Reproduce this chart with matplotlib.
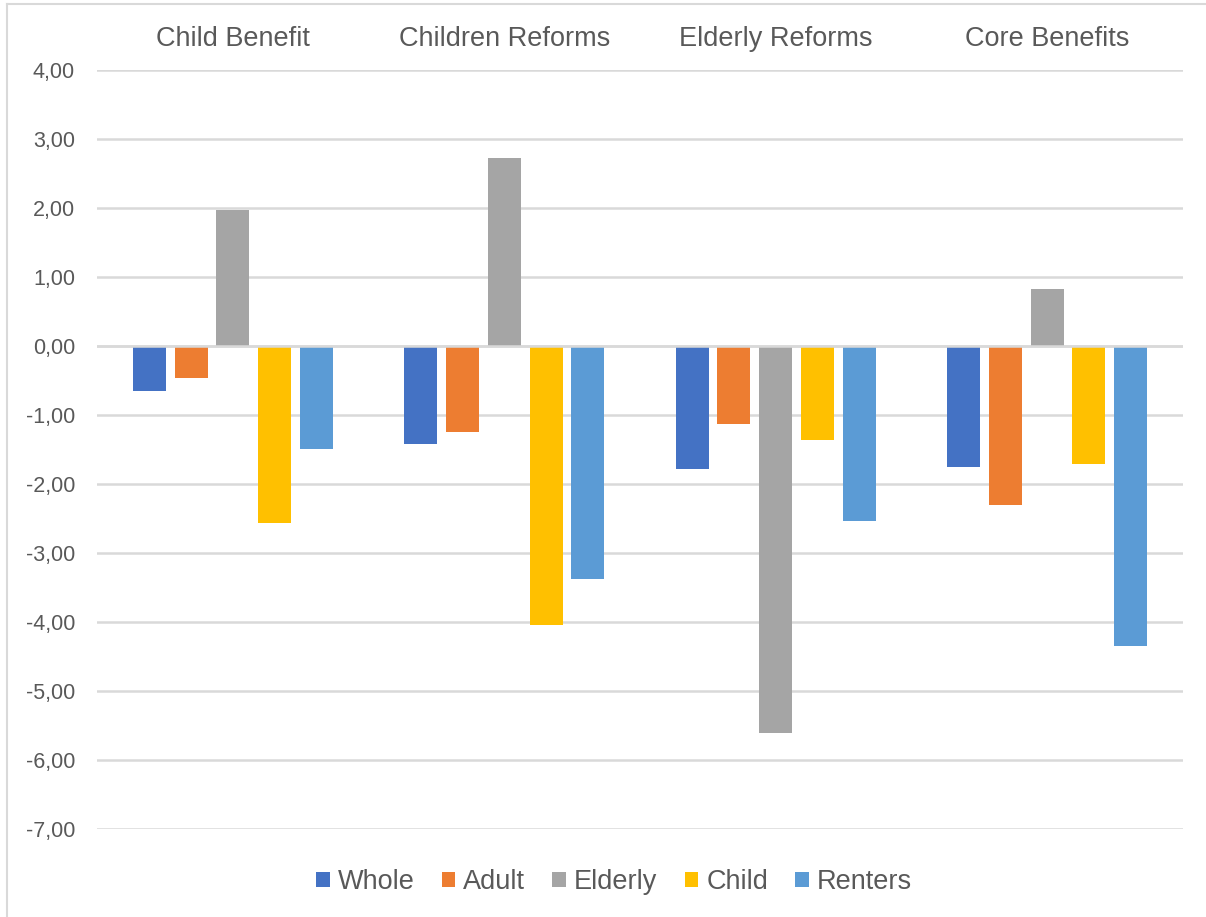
import matplotlib.pyplot as plt
import numpy as np
from matplotlib.patches import Patch
from matplotlib.lines import Line2D

plt.rcParams["font.family"] = ["Liberation Sans", "DejaVu Sans"]

categories = ["Child Benefit", "Children Reforms", "Elderly Reforms", "Core Benefits"]
series_names = ["Whole", "Adult", "Elderly", "Child", "Renters"]

whole = [-0.65, -1.42, -1.78, -1.75]
adult = [-0.46, -1.25, -1.13, -2.31]
elderly = [1.97, 2.72, -5.61, 0.83]
child = [-2.56, -4.05, -1.36, -1.71]
renters = [-1.49, -3.38, -2.54, -4.35]

y_ticks = [4, 3, 2, 1, 0, -1, -2, -3, -4, -5, -6, -7]

COLORS = ["#4472C4", "#ED7D31", "#A5A5A5", "#FFC000", "#5B9BD5"]
TEXT = "#595959"
GRID = "#D9D9D9"

W, H = 1206, 917
fig = plt.figure(figsize=(W / 100, H / 100), dpi=100)
ax = fig.add_axes([97.3 / W, 1 - 829 / H, (1182.7 - 97.3) / W, (829 - 70) / H])

values = [whole, adult, elderly, child, renters]
x = np.arange(len(categories))
pitch = 41.7 / 271.35
width = 33 / 271.35
for i, (name, vals) in enumerate(zip(series_names, values)):
    ax.bar(x + (i - 2) * pitch, vals, width=width, color=COLORS[i],
           label=name, zorder=3)

ax.set_xlim(-0.5, len(categories) - 0.5)
ax.set_ylim(-7, 4)
ax.set_yticks(y_ticks)
ax.set_yticklabels([f"{v:.2f}".replace(".", ",") for v in y_ticks])
ax.yaxis.grid(True, color=GRID, linewidth=1.8, zorder=0)
ax.axhline(0, color=GRID, linewidth=1.8, zorder=4)

ax.xaxis.tick_top()
ax.set_xticks(x)
ax.set_xticklabels(categories)
ax.tick_params(axis="x", length=0, pad=13, labelsize=19.5, labelcolor=TEXT)
ax.tick_params(axis="y", length=0, pad=16, labelsize=15.5, labelcolor=TEXT)
for s in ax.spines.values():
    s.set_visible(False)

handles = [Patch(facecolor=c, edgecolor="none") for c in COLORS]
fig.legend(handles, series_names, loc="center", bbox_to_anchor=(614 / W, 1 - 882 / H),
           ncol=5, frameon=False, fontsize=19.5, labelcolor=TEXT,
           handlelength=0.5, handleheight=0.5, handletextpad=0.3,
           columnspacing=1.0)

# light outer border (top and left visible)
fig.add_artist(Line2D([7 / W, 1], [1 - 4 / H, 1 - 4 / H], color=GRID, linewidth=1.5))
fig.add_artist(Line2D([7 / W, 7 / W], [0, 1 - 4 / H], color=GRID, linewidth=1.5))

fig.savefig("out.png", dpi=100)
